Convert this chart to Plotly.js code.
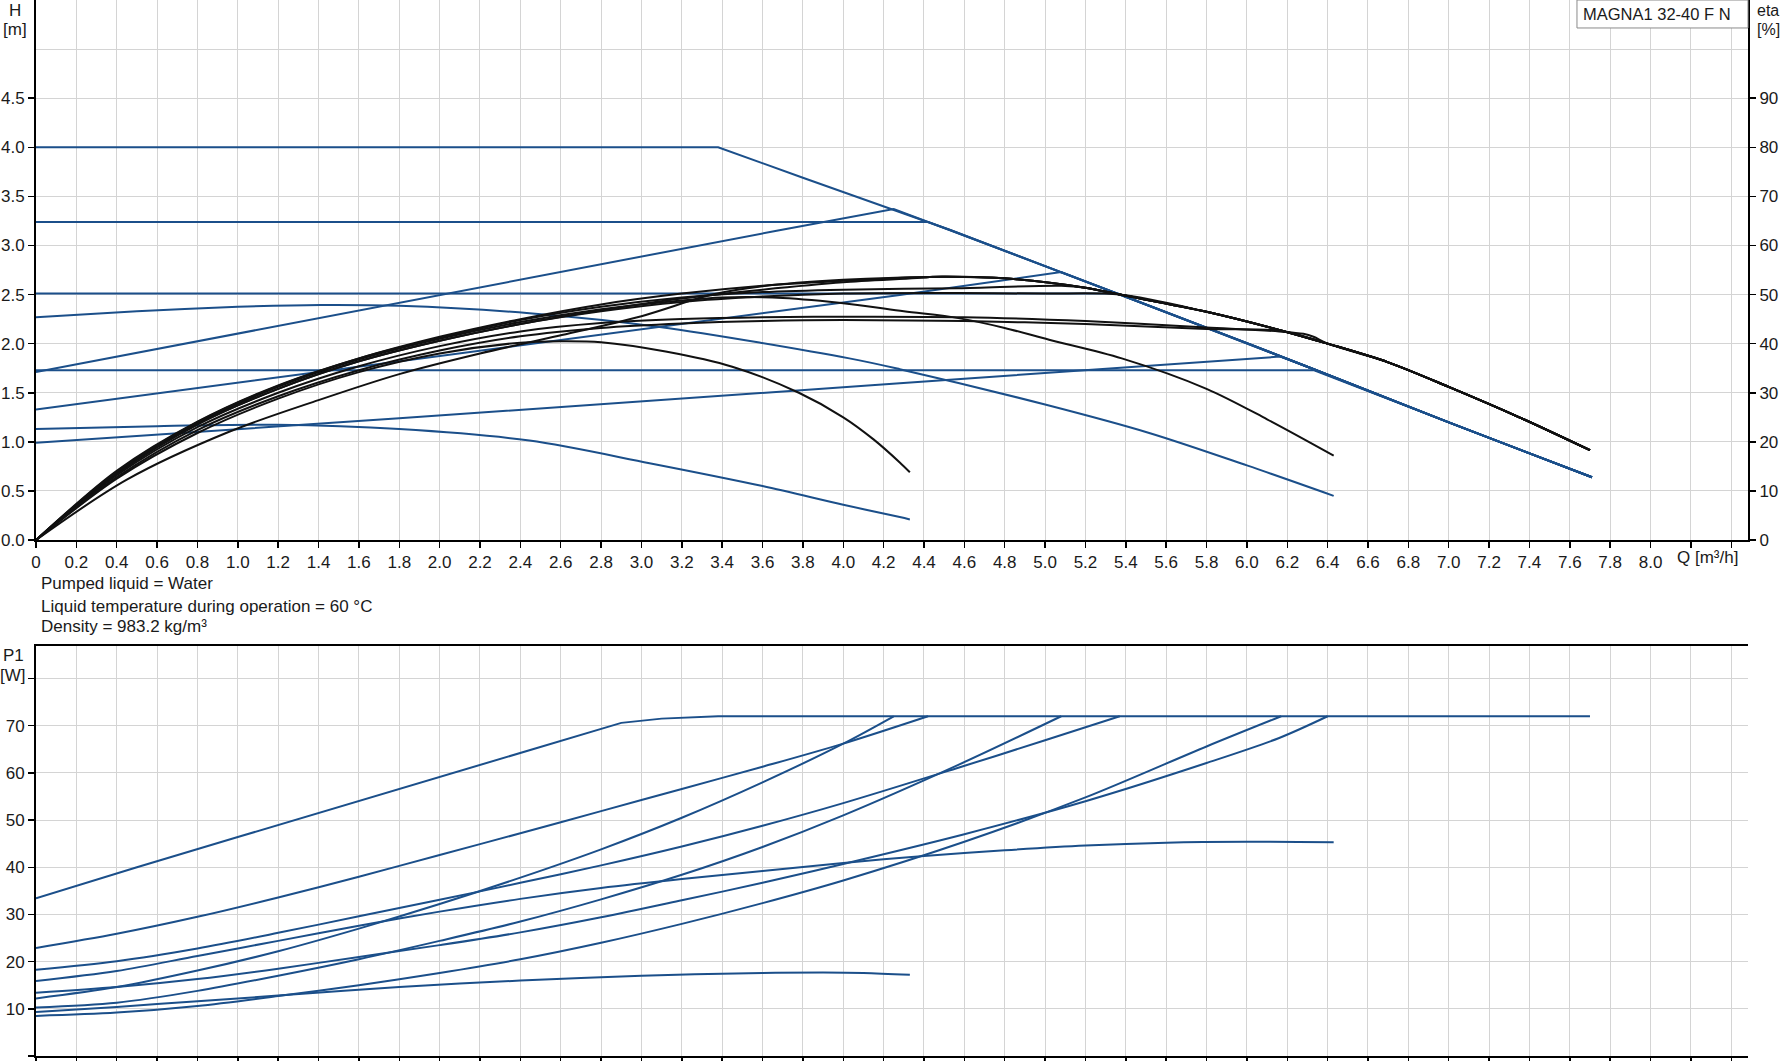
<!DOCTYPE html>
<html>
<head>
<meta charset="utf-8">
<script src="https://cdn.plot.ly/plotly-3.0.1.min.js"></script>
<style>
  html, body { margin: 0; padding: 0; background: #fff; }
  #chart { width: 1780px; height: 1061px; }
</style>
</head>
<body>
<div id="chart"></div>
<script>
// ---------- Axis ticks ----------
const Q_TICKS = [0,0.2,0.4,0.6,0.8,1.0,1.2,1.4,1.6,1.8,2.0,2.2,2.4,2.6,2.8,3.0,3.2,3.4,3.6,3.8,4.0,4.2,4.4,4.6,4.8,5.0,5.2,5.4,5.6,5.8,6.0,6.2,6.4,6.6,6.8,7.0,7.2,7.4,7.6,7.8,8.0,8.2,8.4];
const Q_TICK_LABELS = ["0","0.2","0.4","0.6","0.8","1.0","1.2","1.4","1.6","1.8","2.0","2.2","2.4","2.6","2.8","3.0","3.2","3.4","3.6","3.8","4.0","4.2","4.4","4.6","4.8","5.0","5.2","5.4","5.6","5.8","6.0","6.2","6.4","6.6","6.8","7.0","7.2","7.4","7.6","7.8","8.0","",""];
const H_TICKS = [0,0.5,1.0,1.5,2.0,2.5,3.0,3.5,4.0,4.5];
const H_TICK_LABELS = ["0.0","0.5","1.0","1.5","2.0","2.5","3.0","3.5","4.0","4.5"];
const ETA_TICKS = [0,10,20,30,40,50,60,70,80,90];
const ETA_TICK_LABELS = ["0","10","20","30","40","50","60","70","80","90"];
const P_TICKS = [0,10,20,30,40,50,60,70,80];
const P_TICK_LABELS = ["0","10","20","30","40","50","60","70",""];

// ---------- Head curves H [m] ----------
const H_MAX_Q = [0, 3.38, 3.8, 4.42, 4.53, 5.0, 5.36, 6.02, 6.3, 7.01, 7.71];
const H_MAX   = [4.0, 4.0, 3.69, 3.24, 3.157, 2.79, 2.51, 1.99, 1.765, 1.19, 0.64];
const H_SP2_Q = [0, 0.5, 1.0, 1.41, 1.8, 2.445, 3.09, 4.03, 4.28, 5.0, 5.52, 6.0, 6.43];
const H_SP2   = [2.27, 2.33, 2.375, 2.394, 2.385, 2.31, 2.17, 1.85, 1.74, 1.38, 1.088, 0.76, 0.45];
const H_SP1_Q = [0, 0.6, 1.19, 1.8, 2.445, 3.04, 3.6, 4.0, 4.28, 4.33];
const H_SP1   = [1.13, 1.16, 1.173, 1.13, 1.013, 0.783, 0.55, 0.36, 0.234, 0.21];
const H_CP3_Q = [0, 4.42];            const H_CP3 = [3.24, 3.24];
const H_CP2_Q = [0, 5.36];            const H_CP2 = [2.51, 2.51];
const H_CP1_Q = [0, 6.33];            const H_CP1 = [1.73, 1.73];
const H_PP3_Q = [0, 1.8, 3.67, 4.25]; const H_PP3 = [1.71, 2.42, 3.15, 3.37];
const H_PP2_Q = [0, 1.8, 4.28, 5.08]; const H_PP2 = [1.33, 1.817, 2.495, 2.73];
const H_PP1_Q = [0, 1.8, 4.28, 6.165];const H_PP1 = [0.99, 1.24, 1.597, 1.868];

// ---------- Efficiency curves eta [%] ----------
const ETA_MAX_Q = [0, 0.45, 0.96, 1.4, 1.8, 2.2, 2.59, 3.0, 3.35, 3.6, 4.0, 4.43, 4.8, 5.2, 5.37, 5.8, 6.16, 6.4, 6.7, 7.0, 7.35, 7.7];
const ETA_MAX   = [0, 12.3, 22.1, 28.5, 33.8, 38.0, 41.6, 45.6, 50.0, 51.7, 53.0, 53.6, 53.3, 51.4, 50.0, 46.5, 42.8, 40.0, 36.2, 31.2, 25.0, 18.3];
const ETA_SP2_Q = [0, 0.4, 0.8, 1.2, 1.6, 2.0, 2.4, 2.8, 3.2, 3.4, 3.7, 4.03, 4.3, 4.57, 4.8, 5.02, 5.38, 5.8, 6.1, 6.43];
const ETA_SP2   = [0, 13.8, 23.8, 31.2, 36.8, 41.0, 44.4, 47.0, 48.8, 49.4, 49.3, 48.1, 46.6, 45.2, 43.2, 40.8, 37.0, 30.8, 24.6, 17.2];
const ETA_SP1_Q = [0, 0.4, 0.8, 1.2, 1.6, 2.0, 2.4, 2.6, 2.8, 3.12, 3.45, 3.78, 4.0, 4.15, 4.28, 4.33];
const ETA_SP1   = [0, 12.5, 21.8, 28.8, 34.2, 38.0, 40.2, 40.5, 40.3, 38.4, 35.3, 30.0, 25.0, 20.5, 15.8, 13.8];
const ETA_CP3_Q = [0, 0.4, 0.8, 1.2, 1.6, 2.0, 2.4, 2.8, 3.2, 3.6, 4.0, 4.42];
const ETA_CP3   = [0, 13.5, 23.5, 30.8, 36.4, 40.6, 44.0, 46.8, 49.2, 51.0, 52.5, 53.5];
const ETA_PP3_Q = [0, 0.4, 0.8, 1.2, 1.6, 2.0, 2.4, 2.8, 3.2, 3.6, 4.0, 4.25];
const ETA_PP3   = [0, 14.1, 24.1, 31.5, 37.0, 41.4, 45.0, 48.0, 50.2, 51.8, 52.8, 53.3];
const ETA_CP2_Q = [0, 0.4, 0.8, 1.2, 1.6, 2.0, 2.4, 2.8, 3.2, 3.6, 4.0, 4.57, 5.0, 5.37];
const ETA_CP2   = [0, 13.5, 23.6, 30.8, 36.4, 40.6, 44.0, 46.6, 48.5, 49.6, 50.2, 50.3, 50.2, 50.0];
const ETA_PP2_Q = [0, 0.4, 0.8, 1.2, 1.6, 2.0, 2.4, 2.8, 3.2, 3.6, 4.0, 4.57, 5.08];
const ETA_PP2   = [0, 13.9, 24.0, 31.4, 37.0, 41.2, 44.8, 47.5, 49.4, 50.5, 51.0, 51.3, 51.8];
const ETA_CP1_Q = [0, 0.4, 0.8, 1.2, 1.6, 2.0, 2.4, 2.8, 3.2, 3.6, 4.0, 4.6, 5.2, 5.8, 6.16, 6.28, 6.33];
const ETA_CP1   = [0, 13.2, 23.0, 30.0, 35.4, 39.5, 42.5, 44.2, 45.0, 45.4, 45.5, 45.4, 44.6, 43.3, 42.5, 42.0, 41.4];
const ETA_PP1_Q = [0, 0.4, 0.8, 1.2, 1.6, 2.0, 2.4, 2.8, 3.2, 3.6, 4.0, 4.6, 5.2, 5.8, 6.17];
const ETA_PP1   = [0, 12.8, 22.4, 29.3, 34.6, 38.6, 41.5, 43.2, 44.1, 44.6, 44.8, 44.6, 44.0, 43.0, 42.6];

// ---------- Power input P1 [W] ----------
const P_MAX_Q = [0, 0.5, 1.0, 1.5, 2.0, 2.5, 2.9, 3.1, 3.38, 7.7];
const P_MAX   = [33.4, 40.0, 46.4, 52.8, 59.2, 65.6, 70.6, 71.5, 72.0, 72.0];
const P_SP2_Q = [0, 0.4, 0.8, 1.2, 1.6, 2.0, 2.4, 2.8, 3.2, 3.6, 4.0, 4.4, 4.8, 5.2, 5.6, 6.0, 6.43];
const P_SP2   = [15.9, 18.0, 21.2, 24.4, 27.6, 30.6, 33.3, 35.6, 37.5, 39.2, 40.9, 42.4, 43.6, 44.6, 45.2, 45.4, 45.3];
const P_SP1_Q = [0, 0.4, 0.8, 1.2, 1.8, 2.4, 3.0, 3.6, 3.9, 4.1, 4.33];
const P_SP1   = [9.3, 10.4, 11.6, 12.8, 14.6, 16.0, 17.0, 17.6, 17.7, 17.6, 17.2];
const P_CP3_Q = [0, 0.4, 0.8, 1.2, 1.6, 2.0, 2.4, 2.8, 3.2, 3.6, 4.0, 4.42];
const P_CP3   = [22.9, 25.9, 29.5, 33.6, 38.0, 42.6, 47.2, 51.9, 56.6, 61.3, 66.2, 72.0];
const P_PP3_Q = [0, 0.4, 0.8, 1.2, 1.6, 2.0, 2.4, 2.8, 3.2, 3.6, 4.0, 4.25];
const P_PP3   = [12.2, 14.6, 18.1, 22.2, 27.0, 32.2, 37.8, 43.8, 50.5, 58.0, 66.2, 72.0];
const P_CP2_Q = [0, 0.4, 0.8, 1.2, 1.6, 2.0, 2.4, 2.8, 3.2, 3.6, 4.0, 4.57, 5.0, 5.37];
const P_CP2   = [18.3, 20.1, 22.8, 26.1, 29.6, 33.1, 36.7, 40.4, 44.4, 48.8, 53.6, 61.1, 66.9, 72.0];
const P_PP2_Q = [0, 0.4, 0.8, 1.2, 1.6, 2.0, 2.4, 2.8, 3.2, 3.6, 4.0, 4.57, 5.08];
const P_PP2   = [10.3, 11.3, 13.8, 17.0, 20.5, 24.4, 28.5, 33.2, 38.4, 44.3, 51.0, 61.7, 72.0];
const P_CP1_Q = [0, 0.4, 0.8, 1.2, 1.6, 2.0, 2.4, 2.8, 3.2, 3.6, 4.0, 4.6, 5.2, 5.8, 6.16, 6.4];
const P_CP1   = [13.4, 14.6, 16.3, 18.5, 21.0, 23.5, 26.2, 29.4, 33.0, 36.7, 40.7, 47.0, 54.0, 62.1, 67.4, 72.0];
const P_PP1_Q = [0, 0.4, 0.8, 1.2, 1.6, 2.0, 2.4, 2.8, 3.2, 3.6, 4.0, 4.6, 5.2, 5.8, 6.17];
const P_PP1   = [8.5, 9.2, 10.6, 12.7, 15.0, 17.6, 20.5, 24.0, 28.0, 32.4, 37.2, 45.4, 54.8, 65.6, 72.0];

// ---------- Styling ----------
const BLUE = '#1b4f8a';
const BLACK = '#111111';
const GRID = '#d4d4d4';
const FONT = 'Liberation Sans, Arial, Helvetica, sans-serif';

// append the part of the max curve lying beyond a curve's end point
function withTail(q, v, tq, tv) {
  const last = q[q.length - 1];
  const x = q.slice(), y = v.slice();
  tq.forEach((t, i) => { if (t > last + 0.005) { x.push(t); y.push(tv[i]); } });
  return { x, y };
}
function tr(x, y, xa, ya, color, shape, w) {
  const line = { color: color, width: w || 2, shape: shape || 'linear' };
  if (shape === 'spline') line.smoothing = 0.9;
  return { type: 'scatter', mode: 'lines', x: x, y: y, xaxis: xa, yaxis: ya,
           line: line, hoverinfo: 'skip', showlegend: false };
}

const traces = [];
// H curves (blue, left axis)
traces.push(tr(H_MAX_Q, H_MAX, 'x', 'y', BLUE, 'linear'));
traces.push(tr(H_SP2_Q, H_SP2, 'x', 'y', BLUE, 'spline'));
traces.push(tr(H_SP1_Q, H_SP1, 'x', 'y', BLUE, 'spline'));
[[H_CP3_Q, H_CP3], [H_CP2_Q, H_CP2], [H_CP1_Q, H_CP1],
 [H_PP3_Q, H_PP3], [H_PP2_Q, H_PP2], [H_PP1_Q, H_PP1]].forEach(([q, h]) => {
  const c = withTail(q, h, H_MAX_Q, H_MAX);
  traces.push(tr(c.x, c.y, 'x', 'y', BLUE, 'linear'));
});
// eta curves (black, right axis)
traces.push(tr(ETA_MAX_Q, ETA_MAX, 'x', 'y2', BLACK, 'spline'));
traces.push(tr(ETA_SP2_Q, ETA_SP2, 'x', 'y2', BLACK, 'spline'));
traces.push(tr(ETA_SP1_Q, ETA_SP1, 'x', 'y2', BLACK, 'spline'));
[[ETA_CP3_Q, ETA_CP3], [ETA_PP3_Q, ETA_PP3], [ETA_CP2_Q, ETA_CP2],
 [ETA_PP2_Q, ETA_PP2], [ETA_CP1_Q, ETA_CP1], [ETA_PP1_Q, ETA_PP1]].forEach(([q, e]) => {
  const c = withTail(q, e, ETA_MAX_Q, ETA_MAX);
  traces.push(tr(c.x, c.y, 'x', 'y2', BLACK, 'spline'));
});
// P1 curves (blue, lower plot)
traces.push(tr(P_MAX_Q, P_MAX, 'x2', 'y3', BLUE, 'linear'));
[[P_SP2_Q, P_SP2], [P_SP1_Q, P_SP1], [P_CP3_Q, P_CP3], [P_PP3_Q, P_PP3],
 [P_CP2_Q, P_CP2], [P_PP2_Q, P_PP2], [P_CP1_Q, P_CP1], [P_PP1_Q, P_PP1]].forEach(([q, p]) => {
  traces.push(tr(q, p, 'x2', 'y3', BLUE, 'spline'));
});

const baseX = {
  range: [0, 8.483], tickmode: 'array', tickvals: Q_TICKS,
  showgrid: true, gridcolor: GRID, gridwidth: 1, zeroline: false,
  showline: true, linecolor: '#000', linewidth: 2, mirror: true,
  ticks: 'outside', ticklen: 6, tickwidth: 1.5, tickcolor: '#000',
  fixedrange: true
};

const ann = (text, x, y, xanchor, size) => ({
  text: text, xref: 'paper', yref: 'paper', x: x, y: y,
  xanchor: xanchor || 'center', yanchor: 'middle', showarrow: false,
  font: { family: FONT, size: size || 17, color: '#1a1a1a' }
});

const layout = {
  width: 1780, height: 1061,
  margin: { l: 36, r: 32, t: 0, b: 5, pad: 0 },
  paper_bgcolor: '#fff', plot_bgcolor: '#fff',
  font: { family: FONT, size: 17, color: '#1a1a1a' },
  showlegend: false,
  xaxis: Object.assign({}, baseX, { anchor: 'y', domain: [0, 1], ticktext: Q_TICK_LABELS }),
  yaxis: {
    domain: [0.4886, 1], range: [0, 5.5], anchor: 'x',
    tickmode: 'array', tickvals: H_TICKS, ticktext: H_TICK_LABELS,
    showgrid: true, gridcolor: GRID, zeroline: false,
    minor: { tickvals: [5.0], showgrid: true, gridcolor: GRID, ticklen: 0 },
    showline: true, linecolor: '#000', linewidth: 2,
    ticks: 'outside', ticklen: 6, tickwidth: 1.5, tickcolor: '#000', fixedrange: true
  },
  yaxis2: {
    overlaying: 'y', side: 'right', anchor: 'x', range: [0, 110],
    tickmode: 'array', tickvals: ETA_TICKS, ticktext: ETA_TICK_LABELS,
    showgrid: false, zeroline: false,
    showline: true, linecolor: '#000', linewidth: 2,
    ticks: 'outside', ticklen: 6, tickwidth: 1.5, tickcolor: '#000', fixedrange: true
  },
  xaxis2: Object.assign({}, baseX, { anchor: 'y3', domain: [0, 1], showticklabels: false }),
  yaxis3: {
    domain: [0, 0.3883], range: [0, 86.9], anchor: 'x2',
    tickmode: 'array', tickvals: P_TICKS, ticktext: P_TICK_LABELS,
    showgrid: true, gridcolor: GRID, zeroline: false,
    showline: true, linecolor: '#000', linewidth: 2,
    ticks: 'outside', ticklen: 6, tickwidth: 1.5, tickcolor: '#000', fixedrange: true
  },
  shapes: [
    { type: 'rect', xref: 'paper', yref: 'paper', x0: 0.9001, x1: 1.0, y0: 0.9735, y1: 1.0,
      line: { color: '#8a8a8a', width: 1 }, fillcolor: '#fff', layer: 'above' }
  ],
  annotations: [
    ann('H', -0.0123, 0.9901),
    ann('[m]', -0.0123, 0.9716),
    ann('eta', 1.0043, 0.9896, 'left', 16),
    ann('[%]', 1.0043, 0.9716, 'left', 16),
    ann('Q [m³/h]', 0.9761, 0.4725),
    ann('Pumped liquid = Water', 0.0018, 0.4470, 'left'),
    ann('Liquid temperature during operation = 60 °C', 0.0018, 0.4261, 'left'),
    ann('Density = 983.2 kg/m³', 0.0018, 0.4063, 'left'),
    ann('P1', -0.0134, 0.3788),
    ann('[W]', -0.0134, 0.3599),
    ann('MAGNA1 32-40 F N', 0.9469, 0.9872, 'center', 16.5)
  ]
};

Plotly.newPlot('chart', traces, layout, { displayModeBar: false, staticPlot: true });
</script>
</body>
</html>
